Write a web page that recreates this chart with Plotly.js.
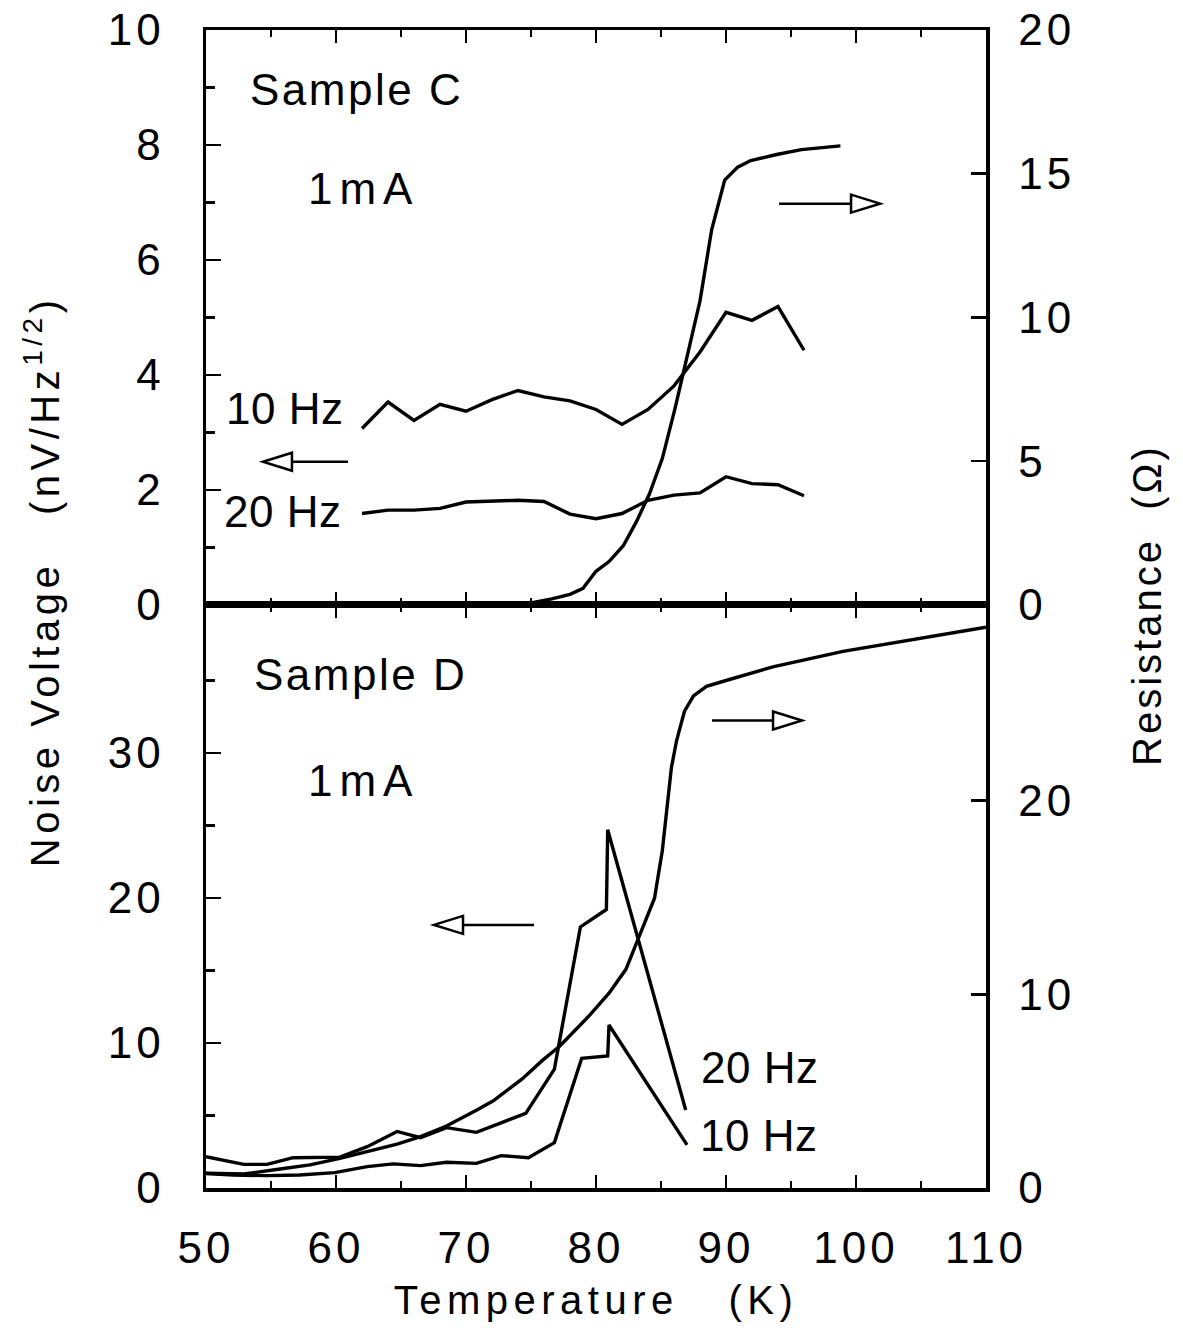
<!DOCTYPE html>
<html>
<head>
<meta charset="utf-8">
<script src="https://cdn.plot.ly/plotly-3.0.1.min.js"></script>
<style>
  body { margin: 0; background: #fff; }
  #chart { width: 1183px; height: 1344px; }
  g[class$="tick"] > text { letter-spacing: 4px; }
  .x2title { letter-spacing: 5.5px; }
</style>
</head>
<body>
<div id="chart"></div>
<script>
// ---------- Sample C (top panel) ----------
const tempC = [62, 64, 66, 68, 70, 72, 74, 76, 78, 80, 82, 84, 86, 88, 90, 92, 94, 96];
const noiseC10 = [3.07, 3.53, 3.21, 3.49, 3.37, 3.57, 3.73, 3.62, 3.55, 3.40, 3.14, 3.40, 3.81, 4.40, 5.09, 4.95, 5.19, 4.43];
const noiseC20 = [1.59, 1.65, 1.65, 1.68, 1.79, 1.80, 1.82, 1.80, 1.58, 1.50, 1.59, 1.82, 1.91, 1.95, 2.23, 2.11, 2.09, 1.90];
const tempRC = [70, 72.8, 75.0, 76.6, 78.0, 79.0, 80.0, 81.0, 82.1, 83.1, 84.1, 85.1, 86.1, 87.0, 88.0, 88.9, 89.9, 90.9, 91.9, 93.9, 95.8, 98.8];
const resC = [0, 0, 0.07, 0.21, 0.37, 0.58, 1.17, 1.51, 2.06, 2.89, 3.85, 5.09, 6.87, 8.66, 10.58, 13.06, 14.78, 15.23, 15.46, 15.67, 15.84, 15.97];

// ---------- Sample D (bottom panel) ----------
const tempD20 = [50, 51.3, 52.9, 54.7, 56.7, 60.3, 62.4, 64.7, 66.5, 68.5, 70.8, 72.6, 74.6, 76.8, 78.8, 80.8, 80.9, 86.9];
const noiseD20 = [2.16, 1.93, 1.63, 1.63, 2.09, 2.13, 2.85, 3.90, 3.47, 4.16, 3.84, 4.46, 5.15, 8.20, 18.0, 19.2, 24.7, 5.38];
const tempD10 = [50, 52.1, 54.7, 57.2, 59.9, 62.4, 64.4, 66.5, 68.5, 70.8, 72.7, 74.8, 76.8, 78.9, 80.9, 81.0, 87.0];
const noiseD10 = [1.0, 0.90, 0.85, 0.90, 1.06, 1.47, 1.66, 1.54, 1.77, 1.70, 2.23, 2.09, 3.13, 8.94, 9.10, 11.24, 2.97];
const tempRD = [50, 52.9, 55.7, 58.0, 60.3, 62.4, 64.7, 66.5, 68.5, 70.8, 72.1, 74.3, 75.9, 77.2, 79.4, 81.0, 82.3, 83.3, 84.5, 85.1, 85.5, 85.8, 86.2, 86.8, 87.5, 88.5, 90.0, 91.6, 93.6, 99.0, 105.0, 110];
const resD = [0.76, 0.72, 0.98, 1.19, 1.53, 1.87, 2.27, 2.65, 3.2, 4.02, 4.5, 5.62, 6.6, 7.32, 8.84, 10.06, 11.29, 12.95, 14.96, 17.41, 20.0, 21.7, 23.1, 24.6, 25.4, 25.9, 26.2, 26.5, 26.9, 27.7, 28.4, 28.95];

// ---------- ticks ----------
const xTicks = [50, 60, 70, 80, 90, 100, 110];
const xMinor = [55, 65, 75, 85, 95, 105];
const yTopTicks = [0, 2, 4, 6, 8, 10];
const yTopMinor = [1, 3, 5, 7, 9];
const y2TopTicks = [0, 5, 10, 15, 20];
const yBotTicks = [0, 10, 20, 30];
const yBotMinor = [5, 15, 25, 35];
const y2BotTicks = [0, 10, 20];

const LINE = { color: '#000', width: 3.4 };
const FONT = 'Liberation Sans, Arial, Helvetica, sans-serif';

const traces = [
  { x: tempC, y: noiseC10, xaxis: 'x', yaxis: 'y', mode: 'lines', line: LINE, name: 'C 10 Hz' },
  { x: tempC, y: noiseC20, xaxis: 'x', yaxis: 'y', mode: 'lines', line: LINE, name: 'C 20 Hz' },
  { x: tempRC, y: resC, xaxis: 'x', yaxis: 'y2', mode: 'lines', line: LINE, name: 'C R' },
  { x: tempD20, y: noiseD20, xaxis: 'x2', yaxis: 'y3', mode: 'lines', line: LINE, name: 'D 20 Hz' },
  { x: tempD10, y: noiseD10, xaxis: 'x2', yaxis: 'y3', mode: 'lines', line: LINE, name: 'D 10 Hz' },
  { x: tempRD, y: resD, xaxis: 'x2', yaxis: 'y4', mode: 'lines', line: LINE, name: 'D R' }
];

const xCommon = {
  domain: [0, 1], range: [50, 110], showline: true, linewidth: 3.5, linecolor: '#000',
  mirror: 'ticks', ticks: 'inside', ticklen: 13, tickwidth: 2.5, tickcolor: '#000',
  tickvals: xTicks, showgrid: false, zeroline: false,
  minor: { tickvals: xMinor, ticks: 'inside', ticklen: 7, tickwidth: 2.5, tickcolor: '#000', showgrid: false }
};
const yCommon = {
  showline: true, linewidth: 3.5, linecolor: '#000', ticks: 'inside', ticklen: 15,
  tickwidth: 2.5, tickcolor: '#000', showgrid: false, zeroline: false,
  tickfont: { size: 44, family: FONT, color: '#000' }, ticklabelstandoff: 29
};

function arrowRight(xa, ya, xref, yref, len) {
  return { type: 'path', xref: xref, yref: yref, xsizemode: 'pixel', ysizemode: 'pixel',
    xanchor: xa, yanchor: ya,
    path: 'M' + (-len) + ',0 L-29,0 M0,0 L-29,9 L-29,-9 Z',
    line: { color: '#000', width: 2.5 }, fillcolor: 'rgba(0,0,0,0)' };
}
function arrowLeft(xa, ya, xref, yref, len) {
  return { type: 'path', xref: xref, yref: yref, xsizemode: 'pixel', ysizemode: 'pixel',
    xanchor: xa, yanchor: ya,
    path: 'M' + len + ',0 L29,0 M0,0 L29,9 L29,-9 Z',
    line: { color: '#000', width: 2.5 }, fillcolor: 'rgba(0,0,0,0)' };
}

function label(text, x, y, xref, yref, spacing) {
  return { text: '<span style="letter-spacing:' + spacing + 'px">' + text + '</span>',
    x: x, y: y, xref: xref, yref: yref, showarrow: false,
    xanchor: 'center', yanchor: 'middle', font: { size: 44, family: FONT, color: '#000' } };
}

const layout = {
  width: 1183, height: 1344,
  margin: { l: 206, r: 197, t: 30, b: 156 },
  paper_bgcolor: '#fff', plot_bgcolor: '#fff',
  showlegend: false,
  font: { family: FONT, color: '#000' },
  xaxis: Object.assign({}, xCommon, { anchor: 'y', showticklabels: false }),
  xaxis2: Object.assign({}, xCommon, {
    anchor: 'y3', showticklabels: true, ticklabelstandoff: 19,
    tickfont: { size: 44, family: FONT, color: '#000' },
    title: { text: 'Temperature&nbsp;&nbsp;&nbsp;(K)', font: { size: 40, family: FONT, color: '#000' }, standoff: 15 }
  }),
  yaxis: Object.assign({}, yCommon, {
    domain: [0.5035, 1], anchor: 'x', range: [0, 10], tickvals: yTopTicks,
    minor: { tickvals: yTopMinor, ticks: 'inside', ticklen: 9, tickwidth: 2.5, tickcolor: '#000', showgrid: false }
  }),
  yaxis2: Object.assign({}, yCommon, {
    overlaying: 'y', side: 'right', anchor: 'x', range: [0, 20], tickvals: y2TopTicks, ticklen: 15, ticklabelstandoff: 20
  }),
  yaxis3: Object.assign({}, yCommon, {
    domain: [0, 0.5035], anchor: 'x2', range: [0, 40.2], tickvals: yBotTicks,
    minor: { tickvals: yBotMinor, ticks: 'inside', ticklen: 9, tickwidth: 2.5, tickcolor: '#000', showgrid: false }
  }),
  yaxis4: Object.assign({}, yCommon, {
    overlaying: 'y3', side: 'right', anchor: 'x2', range: [0, 30.1], tickvals: y2BotTicks, ticklen: 15, ticklabelstandoff: 20
  }),
  annotations: [
    label('Sample C', 61.6, 8.97, 'x', 'y', 2.5),
    label('1mA', 62.1, 7.25, 'x', 'y', 7),
    label('10 Hz', 56.0, 3.41, 'x', 'y', 0.5),
    label('20 Hz', 55.85, 1.63, 'x', 'y', 0.5),
    label('Sample D', 61.9, 35.4, 'x2', 'y3', 2.5),
    label('1mA', 62.1, 28.07, 'x2', 'y3', 7),
    label('20 Hz', 92.6, 8.28, 'x2', 'y3', 0.5),
    label('10 Hz', 92.5, 3.59, 'x2', 'y3', 0.5),
    { text: '<span style="letter-spacing:4.5px">Noise Voltage&nbsp;&nbsp;&nbsp;(nV/Hz<sup>1/2</sup>)</span>',
      x: -0.2103, y: 0.524, xref: 'paper', yref: 'paper', showarrow: false, textangle: -90,
      xanchor: 'center', yanchor: 'middle', font: { size: 40, family: FONT, color: '#000' } },
    { text: '<span style="letter-spacing:3px">Resistance&nbsp;&nbsp;(Ω)</span>',
      x: 1.2064, y: 0.5035, xref: 'paper', yref: 'paper', showarrow: false, textangle: -90,
      xanchor: 'center', yanchor: 'middle', font: { size: 40, family: FONT, color: '#000' } }
  ],
  shapes: [
    arrowLeft(54.38, 2.49, 'x', 'y', 85),
    arrowRight(101.85, 6.98, 'x', 'y', 101),
    arrowRight(95.85, 32.23, 'x2', 'y3', 90),
    arrowLeft(67.54, 18.14, 'x2', 'y3', 100)
  ]
};

Plotly.newPlot('chart', traces, layout, { displayModeBar: false, staticPlot: true });
</script>
</body>
</html>
